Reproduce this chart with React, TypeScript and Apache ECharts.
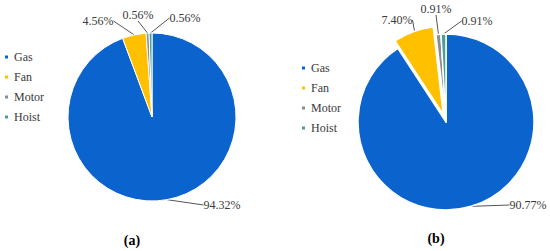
import React, { useEffect, useRef } from "react";
import * as echarts from "echarts";

const categories = ["Gas", "Fan", "Motor", "Hoist"];
const valuesA = [94.32, 4.56, 0.56, 0.56];
const valuesB = [90.77, 7.4, 0.91, 0.91];
const labelsA = ["94.32%", "4.56%", "0.56%", "0.56%"];
const labelsB = ["90.77%", "7.40%", "0.91%", "0.91%"];
const colors = ["#0B63CE", "#FFC000", "#8C8C8C", "#4A9E9B"];
const captions = ["(a)", "(b)"];

// label anchor positions (pixels) for each slice label
const labelPosA = [
  [222, 205],
  [98, 21],
  [138, 15],
  [185, 18],
];
const labelPosB = [
  [528, 205],
  [397, 20],
  [436, 9],
  [477, 21],
];

const FONT = "Liberation Serif, DejaVu Serif, serif";
const TEXT_COLOR = "#3a3a3a";

export default function App() {
  const ref = useRef<HTMLDivElement>(null);
  useEffect(() => {
    document.body.style.margin = "0";
    if (!ref.current) return;
    const chart = echarts.init(ref.current, undefined, { renderer: "svg" });

    const centerA = [152, 117];
    const radiusA = 84;
    const centerB = [446, 122];
    const radiusB = 88;
    const explodeIndex = 1;
    const explodeOffset = 8;

    // mid angle of exploded slice (b), derived from data
    const totalB = valuesB.reduce((s, v) => s + v, 0);
    let before = 0;
    for (let i = 0; i < explodeIndex; i++) before += valuesB[i];
    const midFrac = (before + valuesB[explodeIndex] / 2) / totalB;
    const midAngle = ((90 - midFrac * 360) * Math.PI) / 180;
    const centerB2 = [
      centerB[0] + explodeOffset * Math.cos(midAngle),
      centerB[1] - explodeOffset * Math.sin(midAngle),
    ];

    const labelStyle = {
      show: true,
      position: "outside",
      fontFamily: FONT,
      fontSize: 12,
      color: TEXT_COLOR,
    };
    const labelLine = {
      show: true,
      length: 0,
      length2: 0,
      smooth: false,
      lineStyle: { color: "#555", width: 1 },
    };
    const mkLayout = (pos: number[][]) => (params: any) => ({
      x: pos[params.dataIndex][0],
      y: pos[params.dataIndex][1],
      align: "center",
      verticalAlign: "middle",
    });
    const legendBase = {
      orient: "vertical",
      data: categories,
      itemWidth: 5,
      itemHeight: 5,
      itemGap: 8,
      padding: 0,
      icon: "rect",
      selectedMode: false,
      textStyle: { fontFamily: FONT, fontSize: 12, color: TEXT_COLOR },
    };

    const dataA = valuesA.map((v, i) => ({
      name: categories[i],
      value: v,
      label: { formatter: labelsA[i] },
    }));
    // base (b) pie: exploded slice is transparent here, but keeps its label
    const dataB1 = valuesB.map((v, i) => ({
      name: categories[i],
      value: v,
      itemStyle: i === explodeIndex ? { color: "rgba(0,0,0,0)", borderWidth: 0 } : undefined,
      label: { formatter: labelsB[i] },
    }));
    // overlay (b) pie: only the exploded slice is visible
    const dataB2 = valuesB.map((v, i) => ({
      name: categories[i],
      value: v,
      itemStyle: i === explodeIndex ? undefined : { color: "rgba(0,0,0,0)", borderWidth: 0 },
    }));

    const pieBase = {
      type: "pie",
      startAngle: 90,
      clockwise: true,
      selectedMode: false,
      avoidLabelOverlap: false,
      emphasis: { disabled: true },
      label: labelStyle,
      labelLine,
    };

    chart.setOption({
      animation: false,
      color: colors,
      legend: [
        { ...legendBase, left: 3, top: 51 },
        { ...legendBase, left: 300, top: 62 },
      ],
      graphic: [
        {
          type: "text",
          x: 132,
          y: 240,
          style: {
            text: captions[0],
            fontFamily: FONT,
            fontWeight: "bold",
            fontSize: 14,
            fill: "#000",
            align: "center",
            verticalAlign: "middle",
          },
        },
        {
          type: "text",
          x: 436,
          y: 238,
          style: {
            text: captions[1],
            fontFamily: FONT,
            fontWeight: "bold",
            fontSize: 14,
            fill: "#000",
            align: "center",
            verticalAlign: "middle",
          },
        },
      ],
      series: [
        {
          ...pieBase,
          center: centerA,
          radius: radiusA,
          itemStyle: { borderColor: "#fff", borderWidth: 1 },
          labelLayout: mkLayout(labelPosA),
          data: dataA,
        },
        {
          ...pieBase,
          center: centerB2,
          radius: radiusB,
          silent: true,
          itemStyle: { borderColor: "#fff", borderWidth: 1.5 },
          label: { show: false },
          labelLine: { show: false },
          data: dataB2,
        },
        {
          ...pieBase,
          center: centerB,
          radius: radiusB,
          itemStyle: { borderColor: "#fff", borderWidth: 1.5 },
          labelLayout: mkLayout(labelPosB),
          data: dataB1,
        },
      ],
    });
    return () => chart.dispose();
  }, []);
  return <div ref={ref} style={{ width: 550, height: 251 }} />;
}
